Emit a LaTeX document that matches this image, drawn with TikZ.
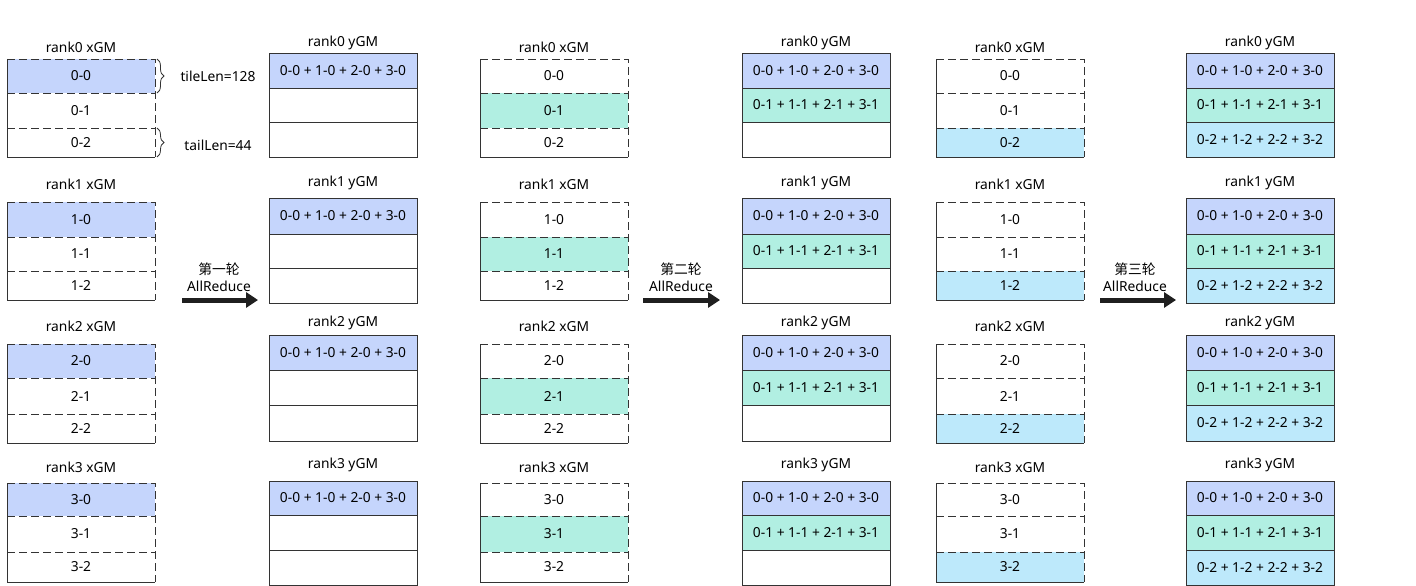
\documentclass[tikz,border=0pt]{standalone}
\usepackage{fontspec}
\setmainfont{Noto Sans}
\newfontfamily\cjk{Noto Sans CJK SC}
\usetikzlibrary{arrows.meta,decorations.pathreplacing}
\definecolor{cblue}{RGB}{197,213,252}
\definecolor{cgreen}{RGB}{177,239,226}
\definecolor{ccyan}{RGB}{189,233,251}
\definecolor{edge}{RGB}{51,51,51}
\begin{document}
\begin{tikzpicture}[x=1pt,y=-1pt,font=\fontsize{13.8}{17}\selectfont,
  cell/.style={anchor=north west,inner sep=0pt,outer sep=0pt,text=black},
  ycell/.style={cell,draw=edge,line width=0.8pt},
  dsep/.style={draw=edge,line width=0.8pt,dash pattern=on 8pt off 4pt},
  ssep/.style={draw=edge,line width=0.8pt},
  title/.style={inner sep=0pt},
  bigarrow/.style={line width=5pt,draw=black!88,-{Triangle[length=12pt,width=15pt]}},
  bracestyle/.style={decorate,decoration={brace,amplitude=7pt},draw=edge,line width=0.8pt}]
\useasboundingbox (0,0) rectangle (1416,586);
% xGM columns
\foreach \r/\t/\sa/\sb/\b/\ty in {0/59/93/128/157/47,1/202/237/271/300/184,2/344/378/414/443/326,3/483/516/552/582/467}{
  \foreach \c/\l/\hl in {A/7/0,C/480/1,E/936/2}{
    \node[title] (\c\r t) at (\l+74,\ty) {rank\r\ xGM};
    \foreach \k/\ya/\yb/\col in {0/\t/\sa/cblue,1/\sa/\sb/cgreen,2/\sb/\b/ccyan}{
      \ifnum\k=\hl\relax\def\fc{\col}\else\def\fc{white}\fi
      \node[cell,fill=\fc,minimum width=148,minimum height={\yb-\ya}] (\c\r c\k) at (\l,\ya) {\r-\k};
    }
    \draw[dsep] (\c\r c0.south west) -- (\c\r c0.south east);
    \draw[dsep] (\c\r c1.south west) -- (\c\r c1.south east);
    \draw[dsep] (\c\r c0.north west) -- (\c\r c0.north east) -- (\c\r c2.south east);
    \draw[ssep] (\c\r c0.north west) -- (\c\r c2.south west) -- (\c\r c2.south east);
  }
}
% yGM columns
\foreach \r/\t/\sa/\sb/\b/\ty in {0/53/88/122/157/43,1/198/234/268/303/183,2/335/370/405/441/323,3/481/515/550/585/465}{
  \foreach \c/\l/\hl in {B/269/0,D/742/1,F/1186/2}{
    \node[title] (\c\r t) at (\l+74,\ty) {rank\r\ yGM};
    \foreach \k/\ya/\yb/\col in {0/\t/\sa/cblue,1/\sa/\sb/cgreen,2/\sb/\b/ccyan}{
      \ifnum\k>\hl\relax\def\fc{white}\else\def\fc{\col}\fi
      \ifnum\k>\hl\relax\def\tx{}\else\def\tx{0-\k\ + 1-\k\ + 2-\k\ + 3-\k}\fi
      \node[ycell,fill=\fc,minimum width=148,minimum height={\yb-\ya}] (\c\r c\k) at (\l,\ya) {\tx};
    }
  }
}
% braces
\draw[bracestyle] ([xshift=2pt]A0c0.north east) -- ([xshift=2pt]A0c0.south east);
\draw[bracestyle] ([xshift=2pt]A0c2.north east) -- ([xshift=2pt]A0c2.south east);
\node[title] (tile) at (218,76) {tileLen=128};
\node[title] (tail) at (218,145) {tailLen=44};
% arrows
\node[align=center,inner sep=0pt] (r1) at (219,277) {{\cjk 第一轮}\\AllReduce};
\node[align=center,inner sep=0pt] (r2) at (681,277) {{\cjk 第二轮}\\AllReduce};
\node[align=center,inner sep=0pt] (r3) at (1135,277) {{\cjk 第三轮}\\AllReduce};
\coordinate (r1s) at (182,300); \coordinate (r1e) at (258,300);
\coordinate (r2s) at (643,300); \coordinate (r2e) at (720,300);
\coordinate (r3s) at (1100,300); \coordinate (r3e) at (1176,300);
\draw[bigarrow] (r1s) -- (r1e);
\draw[bigarrow] (r2s) -- (r2e);
\draw[bigarrow] (r3s) -- (r3e);
\end{tikzpicture}
\end{document}
